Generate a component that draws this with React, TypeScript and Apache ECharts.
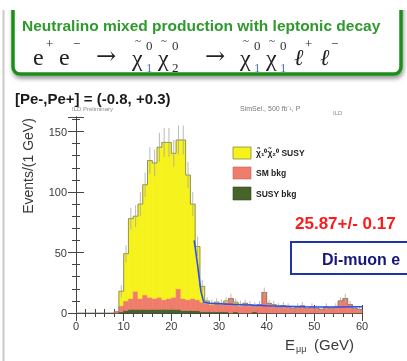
import React, { useEffect, useRef } from "react";
import * as echarts from "echarts";

// 1 GeV bins from 0 to 60 GeV (bin lower edges)
const binStarts: number[] = Array.from({ length: 60 }, (_, i) => i);

// dark green: SUSY background (bottom of stack)
const susyBkg: number[] = [
  0, 0, 0, 0, 0, 0, 0, 0, 0,
  1, 2, 3, 3, 3, 3, 3, 3, 3, 3, 3, 3, 3, 2, 2, 2, 2, 1,
  1, 1, 1, 1, 1, 0, 1, 0, 0, 0, 1, 0, 0, 0, 0, 0, 0, 0, 0, 0, 0, 0, 0, 0, 0, 0, 0, 0, 0, 0, 0, 0, 0,
];
// salmon: SM background
const smBkg: number[] = [
  0, 0, 0, 0, 0, 0, 0, 0, 1,
  5, 8, 9, 15, 9, 12, 10, 9, 10, 8, 9, 10, 17, 10, 9, 10, 9, 8,
  7, 6, 7, 6, 8, 12, 7, 6, 8, 6, 5, 7, 17, 8, 6, 5, 6, 5, 4, 5, 6, 4, 5, 4, 3, 5, 4, 5, 10, 12, 7, 4, 3,
];
// yellow: signal
const signal: number[] = [
  0, 0, 0, 0, 0, 0, 0, 0, 0,
  12, 39, 66, 62, 78, 91, 113, 112, 124, 130, 129, 119, 123, 131, 103, 78, 44, 13,
  2, 1, 1, 1, 1, 0, 1, 1, 0, 1, 0, 0, 0, 0, 1, 0, 0, 0, 0, 0, 0, 0, 0, 0, 0, 0, 0, 0, 0, 0, 0, 0, 0,
];
// statistical error bars on the total
const errors: number[] = [
  0, 0, 0, 0, 0, 0, 0, 0, 0,
  5, 7, 9, 9, 10, 10, 11, 11, 12, 12, 12, 11, 12, 12, 11, 10, 8, 5,
  3, 3, 3, 3, 3, 4, 3, 3, 3, 3, 3, 3, 4, 3, 3, 3, 3, 3, 2, 3, 3, 2, 3, 2, 2, 3, 2, 3, 3, 4, 3, 2, 2,
];
// blue fit curve
const fitX: number[] = [24.8, 25.5, 26.2, 26.8, 28, 31, 35, 40, 44, 48, 52, 56, 58, 60];
const fitY: number[] = [60, 40, 18, 9, 8, 7.5, 6.8, 6, 5.6, 5.2, 4.9, 5, 5.2, 5.2];

const YELLOW = "#f6f21c";
const RED = "#f07c6c";
const GREEN = "#46632a";

export default function App() {
  const ref = useRef<HTMLDivElement>(null);
  useEffect(() => {
    document.body.style.margin = "0";
    const chart = echarts.init(ref.current!, null, { renderer: "svg" });
    const totals = binStarts.map((_, i) => susyBkg[i] + smBkg[i] + signal[i]);
    const stepData: number[][] = binStarts.map((b, i) => [b, totals[i]]);
    stepData.push([60, totals[59]]);

    const axisLine = { show: true, lineStyle: { color: "#444", width: 1 } };
    const labelStyle = { color: "#3a3a3a", fontSize: 11, fontFamily: "Liberation Sans, Arial, sans-serif" };

    const txt = (x: number, y: number, text: string, font: string, fill: string, extra: any = {}) => ({
      type: "text",
      x,
      y,
      z: 100,
      style: { text, font, fill, textVerticalAlign: "middle", ...extra },
    });

    const SERIF = "'Liberation Serif', 'DejaVu Serif', serif";
    const main = `24px ${SERIF}`;
    const small = `13px ${SERIF}`;
    const tilde = `11px ${SERIF}`;
    const chi = (x: number, sup: string, sub: string, subColor: string) => [
      txt(x, 58, "χ", main, "#222"),
      txt(x + 6, 40, "~", tilde, "#222", { textAlign: "center" }),
      txt(x + 14, 45, sup, small, "#333"),
      txt(x + 14, 67, sub, small, subColor),
    ];
    const BLUE1 = "#5a78c0";
    const formula = [
      txt(33, 57, "e", main, "#222"),
      txt(46, 43, "+", small, "#222"),
      txt(59, 57, "e", main, "#222"),
      txt(73, 43, "−", small, "#222"),
      txt(96, 56, "→", `24px 'DejaVu Serif', serif`, "#222", { scaleX: 1.3 }),
      ...chi(132, "0", "1", BLUE1),
      ...chi(158, "0", "2", "#222"),
      txt(205, 56, "→", `24px 'DejaVu Serif', serif`, "#222", { scaleX: 1.1 }),
      ...chi(240, "0", "1", BLUE1),
      ...chi(266, "0", "1", BLUE1),
      txt(294, 57, "ℓ", `italic 23px ${SERIF}`, "#222"),
      txt(305, 43, "+", small, "#222"),
      txt(320, 57, "ℓ", `italic 23px ${SERIF}`, "#222"),
      txt(331, 43, "−", small, "#222"),
    ];

    const SANS = "'Liberation Sans', Arial, sans-serif";

    chart.setOption({
      animation: false,
      grid: { left: 76, top: 117, right: 45, bottom: 48, containLabel: false },
      xAxis: [
        {
          type: "value",
          min: 0,
          max: 60,
          interval: 10,
          position: "bottom",
          axisLine,
          axisTick: { inside: true, length: 8, lineStyle: { color: "#444" } },
          minorTick: { show: true, splitNumber: 5, length: 4, lineStyle: { color: "#444" } },
          axisLabel: { ...labelStyle, margin: 7 },
          splitLine: { show: false },
        },
        {
          type: "value",
          min: 0,
          max: 60,
          interval: 10,
          position: "top",
          axisLine,
          axisTick: { inside: true, length: 8, lineStyle: { color: "#444" } },
          minorTick: { show: true, splitNumber: 5, length: 4, lineStyle: { color: "#444" } },
          axisLabel: { show: false },
          splitLine: { show: false },
        },
      ],
      yAxis: [
        {
          type: "value",
          min: 0,
          max: 162,
          interval: 50,
          position: "left",
          axisLine,
          axisTick: { inside: true, length: 8, lineStyle: { color: "#444" } },
          minorTick: { show: true, splitNumber: 5, length: 4, lineStyle: { color: "#444" } },
          axisLabel: { ...labelStyle, margin: 9, showMaxLabel: false },
          splitLine: { show: false },
        },
        {
          type: "value",
          min: 0,
          max: 162,
          interval: 50,
          position: "right",
          axisLine,
          axisTick: { inside: true, length: 8, lineStyle: { color: "#444" } },
          minorTick: { show: true, splitNumber: 5, length: 4, lineStyle: { color: "#444" } },
          axisLabel: { show: false },
          splitLine: { show: false },
        },
      ],
      series: [
        {
          type: "custom",
          name: "stack",
          xAxisIndex: 0,
          yAxisIndex: 0,
          z: 2,
          data: binStarts.map((b, i) => [b, susyBkg[i], smBkg[i], signal[i]]),
          encode: { x: 0, y: 3 },
          renderItem: (params: any, api: any) => {
            const x0 = api.value(0);
            const g = api.value(1);
            const r = api.value(2);
            const s = api.value(3);
            const layers: [number, number, string][] = [
              [0, g, GREEN],
              [g, g + r, RED],
              [g + r, g + r + s, YELLOW],
            ];
            const children: any[] = [];
            for (const [lo, hi, color] of layers) {
              if (hi <= lo) continue;
              const a = api.coord([x0, hi]);
              const b = api.coord([x0 + 1, lo]);
              children.push({
                type: "rect",
                shape: { x: a[0], y: a[1], width: b[0] - a[0], height: b[1] - a[1] },
                style: { fill: color, stroke: color, lineWidth: 0.6 },
              });
            }
            return { type: "group", children };
          },
        },
        {
          type: "line",
          name: "total",
          step: "end",
          data: stepData,
          showSymbol: false,
          symbol: "none",
          z: 3,
          lineStyle: { color: "#7a7a60", width: 0.8 },
        },
        {
          type: "custom",
          name: "errors",
          z: 4,
          data: binStarts.map((b, i) => [b + 0.5, totals[i], errors[i]]),
          encode: { x: 0, y: 1 },
          renderItem: (params: any, api: any) => {
            const x = api.value(0);
            const t = api.value(1);
            const e = api.value(2);
            if (!e) return null;
            const lo = api.coord([x, Math.max(0, t - e)]);
            const hi = api.coord([x, t + e]);
            return {
              type: "line",
              shape: { x1: lo[0], y1: lo[1], x2: hi[0], y2: hi[1] },
              style: { stroke: "#a8a8a8", lineWidth: 0.8 },
            };
          },
        },
        {
          type: "line",
          name: "fit",
          data: fitX.map((x, i) => [x, fitY[i]]),
          showSymbol: false,
          symbol: "none",
          z: 5,
          lineStyle: { color: "#2b4ff0", width: 1.6 },
        },
      ],
      graphic: [
        // slide border line
        { type: "rect", z: 100, shape: { x: 2.5, y: 10, width: 2, height: 351 }, style: { fill: "#c9c9c9" } },
        // green title box
        {
          type: "rect",
          z: 100,
          shape: { x: 13, y: -12, width: 388, height: 86, r: 7 },
          style: {
            fill: "#fff",
            stroke: "#1e8e1e",
            lineWidth: 3.5,
            shadowBlur: 4,
            shadowOffsetX: 1,
            shadowOffsetY: 3,
            shadowColor: "rgba(0,0,0,0.4)",
          },
        },
        { type: "rect", z: 101, shape: { x: 0, y: 0, width: 407, height: 10 }, style: { fill: "#fff" } },
        txt(22, 25, "Neutralino mixed production with leptonic decay", `bold 15.5px ${SANS}`, "#2e9a2e"),
        ...formula,
        // polarisation label
        txt(15, 98, "[Pe-,Pe+] = (-0.8, +0.3)", `bold 15px ${SANS}`, "#1a1a1a"),
        txt(72, 109, "ILD Preliminary", `6px ${SANS}`, "#888"),
        txt(240, 108, "SimSel., 500 fb⁻¹, P", `7px ${SANS}`, "#777"),
        txt(333, 113, "ILD", `6px ${SANS}`, "#888"),
        // y-axis title
        {
          type: "text",
          x: 28,
          y: 166,
          rotation: Math.PI / 2,
          z: 100,
          style: {
            text: "Events/(1 GeV)",
            font: `14px ${SANS}`,
            fill: "#3a3a3a",
            textAlign: "center",
            textVerticalAlign: "middle",
          },
        },
        // x-axis title
        txt(285, 344, "E", `15px ${SANS}`, "#3a3a3a"),
        txt(296, 349, "μμ", `9px ${SANS}`, "#3a3a3a"),
        txt(314, 344, "(GeV)", `15px ${SANS}`, "#3a3a3a"),
        // legend
        { type: "rect", z: 100, shape: { x: 233, y: 147, width: 18, height: 12 }, style: { fill: YELLOW, stroke: "#8a8a40", lineWidth: 0.8 } },
        { type: "rect", z: 100, shape: { x: 233, y: 167, width: 18, height: 12 }, style: { fill: RED, stroke: "#c06060", lineWidth: 0.6 } },
        { type: "rect", z: 100, shape: { x: 233, y: 187, width: 18, height: 13 }, style: { fill: GREEN, stroke: "#334a1c", lineWidth: 0.6 } },
        txt(256, 153, "χ̃₁⁰χ̃₂⁰ SUSY", `bold 8.5px ${SANS}`, "#222"),
        txt(256, 173, "SM bkg", `bold 8.5px ${SANS}`, "#222"),
        txt(256, 194, "SUSY bkg", `bold 8.5px ${SANS}`, "#222"),
        // result text
        txt(295, 223, "25.87+/- 0.17", `bold 17px ${SANS}`, "#ff1a1a"),
        // blue box
        {
          type: "rect",
          z: 100,
          shape: { x: 291, y: 242, width: 140, height: 32 },
          style: { fill: "#fff", stroke: "#2233b0", lineWidth: 2 },
        },
        txt(322, 259, "Di-muon e", `bold 16px ${SANS}`, "#16167a"),
      ],
    });
    return () => chart.dispose();
  }, []);
  return <div ref={ref} style={{ position: "fixed", left: 0, top: 0, width: 407, height: 361 }} />;
}
